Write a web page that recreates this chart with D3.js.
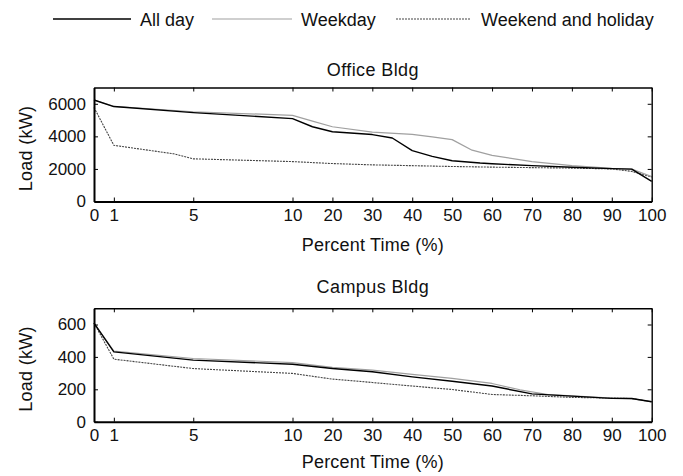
<!DOCTYPE html>
<html>
<head>
<meta charset="utf-8">
<script src="https://cdn.jsdelivr.net/npm/d3@7"></script>
<style>
  body { margin: 0; background: #fff; }
  text { font-family: "Liberation Sans", Arial, sans-serif; fill: #111; }
</style>
</head>
<body>
<svg id="chart" width="683" height="476"></svg>
<script>
// percent-time tick labels (x axis is piecewise: 0-10 stretched, 10-100 compressed)
var xTicks = [0, 1, 5, 10, 20, 30, 40, 50, 60, 70, 80, 90, 100];

// Office building load duration curves (kW)
var officeAllDay = [[0, 6230], [1, 5830], [5, 5460], [10, 5090], [15, 4590], [20, 4280],
  [30, 4110], [35, 3900], [40, 3120], [45, 2770], [50, 2500], [57, 2360], [60, 2320],
  [70, 2200], [80, 2100], [90, 2020], [95, 1990], [100, 1230]];
var officeWeekday = [[0, 6230], [1, 5840], [5, 5510], [10, 5290], [15, 4940], [20, 4590],
  [30, 4260], [40, 4120], [45, 3970], [50, 3800], [55, 3150], [60, 2830], [70, 2450],
  [80, 2200], [90, 2040], [95, 1990], [100, 1530]];
var officeWeekend = [[0, 5770], [1, 3450], [4, 2930], [5, 2620], [10, 2450], [20, 2330],
  [30, 2250], [40, 2200], [50, 2150], [60, 2110], [70, 2080], [80, 2050], [90, 2000],
  [95, 1850], [100, 1500]];

// Campus building load duration curves (kW)
var campusAllDay = [[0, 609], [1, 431], [5, 380], [10, 355], [20, 328], [30, 308],
  [40, 277], [50, 250], [60, 220], [70, 172], [80, 158], [90, 144], [95, 143], [100, 123]];
var campusWeekday = [[0, 609], [1, 436], [5, 390], [10, 365], [20, 335], [30, 318],
  [40, 292], [50, 267], [60, 236], [67, 197], [74, 168], [80, 160], [90, 145], [95, 143],
  [100, 123]];
var campusWeekend = [[0, 609], [1, 386], [5, 328], [10, 298], [20, 263], [30, 242],
  [40, 220], [50, 199], [60, 168], [70, 160], [80, 150], [90, 146], [95, 143], [100, 123]];

var seriesNames = ['All day', 'Weekday', 'Weekend and holiday'];
var officeTicks = [0, 2000, 4000, 6000];
var campusTicks = [0, 200, 400, 600];

var styles = [
  { stroke: '#000', width: 1.4, dash: null },
  { stroke: '#a0a0a0', width: 1.2, dash: null },
  { stroke: '#444', width: 1.1, dash: '2,1' }
];

var svg = d3.select('#chart');
var left = 94, right = 651.7;

var x = d3.scaleLinear().domain([0, 10, 100]).range([left, 292.5, right]);

// legend
var legendPos = [[53, 131, 140], [212, 292, 301], [396, 470, 481]];
seriesNames.forEach(function(name, i) {
  var p = legendPos[i], s = styles[i];
  svg.append('line')
    .attr('x1', p[0]).attr('x2', p[1]).attr('y1', 19).attr('y2', 19)
    .attr('stroke', s.stroke).attr('stroke-width', s.width)
    .attr('stroke-dasharray', s.dash);
  svg.append('text')
    .attr('x', p[2]).attr('y', 26)
    .style('font-size', '18px')
    .text(name);
});

function drawPanel(opts) {
  var y = d3.scaleLinear().domain([0, opts.max]).range([opts.bottom, opts.top]);
  var g = svg.append('g');

  g.append('text')
    .attr('x', (left + right) / 2).attr('y', opts.titleY)
    .attr('text-anchor', 'middle')
    .style('font-size', '18px').style('letter-spacing', '0.4px')
    .text(opts.title);

  // data lines
  var line = d3.line().x(function(d) { return x(d[0]); }).y(function(d) { return y(d[1]); });
  opts.series.slice().reverse().forEach(function(data, ri) {
    var s = styles[opts.series.length - 1 - ri];
    g.append('path')
      .datum(data)
      .attr('d', line)
      .attr('fill', 'none')
      .attr('stroke', s.stroke)
      .attr('stroke-width', s.width)
      .attr('stroke-dasharray', s.dash)
      .attr('stroke-linejoin', 'round');
  });

  // axes with inward ticks
  var xb = d3.axisBottom(x).tickValues(xTicks).tickSizeInner(-4).tickSizeOuter(0).tickPadding(7);
  var xt = d3.axisTop(x).tickValues(xTicks).tickSizeInner(-4).tickSizeOuter(0).tickFormat('');
  var yl = d3.axisLeft(y).tickValues(opts.ticks).tickSizeInner(-4).tickSizeOuter(0)
    .tickPadding(8).tickFormat(d3.format('d'));
  var yr = d3.axisRight(y).tickValues(opts.ticks).tickSizeInner(-4).tickSizeOuter(0).tickFormat('');

  var gxb = g.append('g').attr('transform', 'translate(0,' + opts.bottom + ')').call(xb);
  var gxt = g.append('g').attr('transform', 'translate(0,' + opts.top + ')').call(xt);
  var gyl = g.append('g').attr('transform', 'translate(' + left + ',0)').call(yl);
  var gyr = g.append('g').attr('transform', 'translate(' + right + ',0)').call(yr);

  [gxb, gxt, gyl, gyr].forEach(function(a) {
    a.selectAll('text').style('font-family', '"Liberation Sans", Arial, sans-serif')
      .style('font-size', '17px').attr('fill', '#111');
    a.selectAll('.tick line').attr('stroke', '#000').attr('stroke-width', 1);
  });
  gxb.select('.domain').attr('stroke-width', 2);
  gyl.select('.domain').attr('stroke-width', 2);
  gxt.select('.domain').attr('stroke-width', 1.4);
  gyr.select('.domain').attr('stroke-width', 1.4);

  g.append('text')
    .attr('x', (left + right) / 2).attr('y', opts.bottom + opts.labelGap)
    .attr('text-anchor', 'middle')
    .style('font-size', '18px').style('letter-spacing', '0.2px')
    .text('Percent Time (%)');

  g.append('text')
    .attr('transform', 'translate(32,' + ((opts.top + opts.bottom) / 2 + 4) + ') rotate(-90)')
    .attr('text-anchor', 'middle')
    .style('font-size', '18px').style('letter-spacing', '0.3px')
    .text('Load (kW)');
}

drawPanel({
  title: 'Office Bldg', titleY: 75.7, top: 87.5, bottom: 201.5, max: 7000, labelGap: 49,
  ticks: officeTicks, series: [officeAllDay, officeWeekday, officeWeekend]
});
drawPanel({
  title: 'Campus Bldg', titleY: 293.3, top: 308.3, bottom: 421.7, max: 700, labelGap: 46,
  ticks: campusTicks, series: [campusAllDay, campusWeekday, campusWeekend]
});
</script>
</body>
</html>
